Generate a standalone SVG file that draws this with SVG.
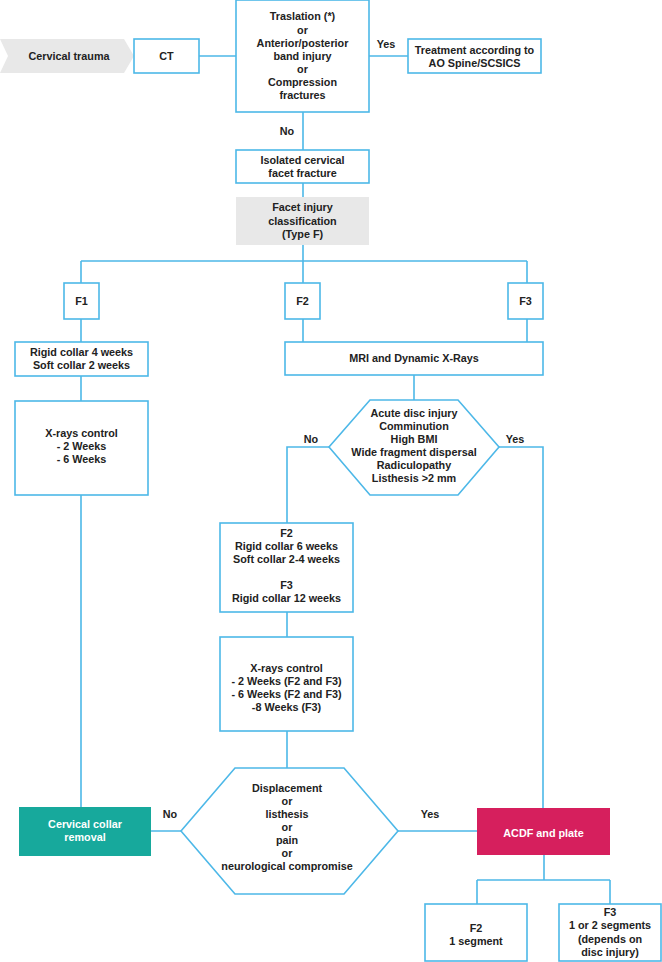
<svg xmlns="http://www.w3.org/2000/svg" width="662" height="962" viewBox="0 0 662 962">
<style>
.b{fill:#fff;stroke:#4db8e8;stroke-width:1.6}
.c{fill:none;stroke:#4db8e8;stroke-width:1.6}
text{font-family:"Liberation Sans",Arial,sans-serif;font-weight:bold;font-size:10.8px;fill:#222;text-anchor:middle;dominant-baseline:central}
.w{fill:#fff}
</style>
<rect width="662" height="962" fill="#fff"/>
<g id="connectors">
<path class="c" d="M199,56H236M369,56H408M303,112V150M303,183V197M303,245V261M81,261H527M81,261V283M303,261V283M527,261V283M81,319V342M81,376V401M303,319V342M527,319V342M414,375V400M329,447H287V523M499,447H543V808M287,612V637M287,731V768M81,495V807M151,831H181M398,831H477M544,855V880M477,880H610M477,880V904M610,880V904"/>
</g>
<g id="labels">
<text x="386" y="44">Yes</text>
<text x="287" y="131">No</text>
<text x="311" y="439">No</text>
<text x="515" y="439">Yes</text>
<text x="170" y="814">No</text>
<text x="430" y="814">Yes</text>
</g>
<g id="cervical-trauma">
<path d="M0,39H124L134,56L124,73H0L8,56Z" fill="#e8e8e8"/>
<text x="69" y="56">Cervical trauma</text>
</g>
<g id="ct">
<rect class="b" x="134" y="39" width="65" height="34"/>
<text x="166.5" y="56">CT</text>
</g>
<g id="traslation">
<rect class="b" x="236" y="0" width="133" height="112"/>
<text x="302.5" y="16">Traslation (*)</text>
<text x="302.5" y="30">or</text>
<text x="302.5" y="43">Anterior/posterior</text>
<text x="302.5" y="56">band injury</text>
<text x="302.5" y="69">or</text>
<text x="302.5" y="82">Compression</text>
<text x="302.5" y="95">fractures</text>
</g>
<g id="treatment">
<rect class="b" x="408" y="39" width="133" height="34"/>
<text x="474.5" y="50">Treatment according to</text>
<text x="474.5" y="63">AO Spine/SCSICS</text>
</g>
<g id="isolated">
<rect class="b" x="236" y="150" width="133" height="33"/>
<text x="302.5" y="160">Isolated cervical</text>
<text x="302.5" y="173">facet fracture</text>
</g>
<g id="facet">
<rect x="236" y="197" width="133" height="48" fill="#e8e8e8"/>
<text x="302.5" y="207">Facet injury</text>
<text x="302.5" y="221">classification</text>
<text x="302.5" y="234">(Type F)</text>
</g>
<g id="f1">
<rect class="b" x="64" y="283" width="35" height="36"/>
<text x="81.5" y="301">F1</text>
</g>
<g id="f2">
<rect class="b" x="285" y="283" width="35" height="36"/>
<text x="302.5" y="301">F2</text>
</g>
<g id="f3">
<rect class="b" x="508" y="283" width="35" height="36"/>
<text x="525.5" y="301">F3</text>
</g>
<g id="rigid4">
<rect class="b" x="15" y="342" width="133" height="34"/>
<text x="81.5" y="352">Rigid collar 4 weeks</text>
<text x="81.5" y="365">Soft collar 2 weeks</text>
</g>
<g id="xray1">
<rect class="b" x="15" y="401" width="133" height="94"/>
<text x="81.5" y="433">X-rays control</text>
<text x="81.5" y="446">- 2 Weeks</text>
<text x="81.5" y="459">- 6 Weeks</text>
</g>
<g id="mri">
<rect class="b" x="285" y="342" width="258" height="33"/>
<text x="414" y="358">MRI and Dynamic X-Rays</text>
</g>
<g id="criteria">
<path class="b" d="M370,400H458L499,447L458,495H370L329,447Z"/>
<text x="414" y="413">Acute disc injury</text>
<text x="414" y="426">Comminution</text>
<text x="414" y="439">High BMI</text>
<text x="414" y="452">Wide fragment dispersal</text>
<text x="414" y="465">Radiculopathy</text>
<text x="414" y="478">Listhesis &gt;2 mm</text>
</g>
<g id="conservative">
<rect class="b" x="220" y="523" width="133" height="89"/>
<text x="286.5" y="533">F2</text>
<text x="286.5" y="546">Rigid collar 6 weeks</text>
<text x="286.5" y="559">Soft collar 2-4 weeks</text>
<text x="286.5" y="585">F3</text>
<text x="286.5" y="598">Rigid collar 12 weeks</text>
</g>
<g id="xray2">
<rect class="b" x="220" y="637" width="133" height="94"/>
<text x="286.5" y="668">X-rays control</text>
<text x="286.5" y="681">- 2 Weeks (F2 and F3)</text>
<text x="286.5" y="694">- 6 Weeks (F2 and F3)</text>
<text x="286.5" y="707">-8 Weeks (F3)</text>
</g>
<g id="displacement">
<path class="b" d="M235,768H344L398,831L344,894H235L181,831Z"/>
<text x="287" y="788">Displacement</text>
<text x="287" y="801">or</text>
<text x="287" y="814">listhesis</text>
<text x="287" y="827">or</text>
<text x="287" y="840">pain</text>
<text x="287" y="853">or</text>
<text x="287" y="866">neurological compromise</text>
</g>
<g id="removal">
<rect x="19" y="807" width="132" height="49" fill="#17a99c"/>
<text class="w" x="85" y="824">Cervical collar</text>
<text class="w" x="85" y="837">removal</text>
</g>
<g id="acdf">
<rect x="477" y="808" width="133" height="47" fill="#d61f5d"/>
<text class="w" x="543.5" y="833">ACDF and plate</text>
</g>
<g id="seg1">
<rect class="b" x="425" y="904" width="102" height="57"/>
<text x="476" y="928">F2</text>
<text x="476" y="941">1 segment</text>
</g>
<g id="seg2">
<rect class="b" x="559" y="904" width="102" height="57"/>
<text x="610" y="912">F3</text>
<text x="610" y="925">1 or 2 segments</text>
<text x="610" y="939">(depends on</text>
<text x="610" y="952">disc injury)</text>
</g>
</svg>
